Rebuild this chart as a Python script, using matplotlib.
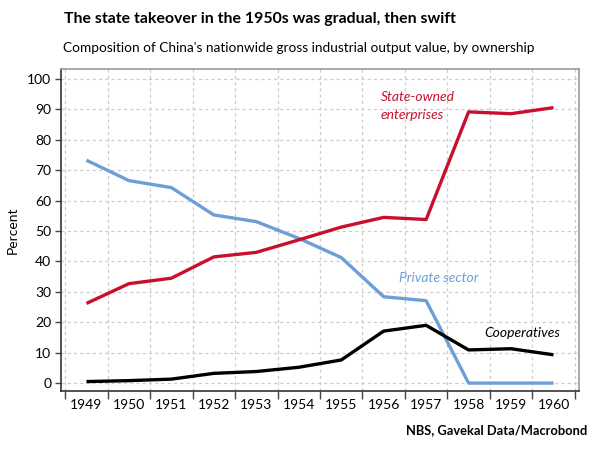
import numpy as np
from matplotlib import pyplot as plt
from matplotlib import ticker

years = [1949, 1950, 1951, 1952, 1953, 1954, 1955, 1956, 1957, 1958, 1959, 1960]
state_owned = [26.2, 32.7, 34.5, 41.5, 43.0, 47.1, 51.3, 54.5, 53.8, 89.2, 88.6, 90.6]
private = [73.3, 66.6, 64.3, 55.3, 53.1, 47.6, 41.3, 28.4, 27.1, 0.0, 0.0, 0.0]
cooperatives = [0.5, 0.8, 1.3, 3.2, 3.8, 5.2, 7.6, 17.1, 19.0, 10.9, 11.3, 9.3]

RED = "#c8102e"
BLUE = "#6b9fd6"

plt.rcParams["font.family"] = ["Lato", "DejaVu Sans"]

fig = plt.figure(figsize=(5.99, 4.49), dpi=100)
ax = fig.add_axes([0.1018, 0.1292, 0.8648, 0.7171])

ax.plot(years, private, color=BLUE, lw=2.4, solid_capstyle="butt")
ax.plot(years, cooperatives, color="black", lw=2.4, solid_capstyle="butt")
ax.plot(years, state_owned, color=RED, lw=2.4, solid_capstyle="butt")

ax.set_xlim(years[0] - 0.6, years[-1] + 0.6)
ax.set_ylim(-2.6, 103.3)

# ticks + grid on the year boundaries, labels centred on the years
bounds = np.arange(years[0] - 0.5, years[-1] + 1, 1.0)
ax.xaxis.set_major_locator(ticker.FixedLocator(bounds))
ax.xaxis.set_major_formatter(ticker.NullFormatter())
ax.xaxis.set_minor_locator(ticker.FixedLocator(years))
ax.xaxis.set_minor_formatter(ticker.FixedFormatter([str(y) for y in years]))
ax.tick_params(axis="x", which="major", length=6, width=1, color="#444444")
ax.tick_params(axis="x", which="minor", length=0, pad=6, labelsize=10)
ax.yaxis.set_major_locator(ticker.MultipleLocator(10))
ax.tick_params(axis="y", length=4, width=1, color="#444444", labelsize=10, pad=3)

ax.grid(True, which="major", color="#cccccc", lw=0.9, linestyle=(0, (2.5, 2.5)))
ax.set_axisbelow(True)

for side in ("top", "right"):
    ax.spines[side].set_color("#999999")
    ax.spines[side].set_linewidth(1.2)
for side in ("left", "bottom"):
    ax.spines[side].set_color("#333333")
    ax.spines[side].set_linewidth(1.2)

ax.set_ylabel("Percent", fontsize=10, labelpad=6)

ax.text(1955.93, 91.1, "State-owned\nenterprises", color=RED, fontsize=10,
        style="italic", ha="left", va="center", linespacing=1.55)
ax.text(1956.36, 34.5, "Private sector", color=BLUE, fontsize=10,
        style="italic", ha="left", va="center")
ax.text(1958.37, 16.5, "Cooperatives", color="black", fontsize=10,
        style="italic", ha="left", va="center")

fig.text(0.434, 0.958, "The state takeover in the 1950s was gradual, then swift",
         ha="center", va="center", fontsize=11.4, fontweight="bold")
fig.text(0.499, 0.892, "Composition of China's nationwide gross industrial output value, by ownership",
         ha="center", va="center", fontsize=9.8)
fig.text(0.98, 0.042, "NBS, Gavekal Data/Macrobond", ha="right", va="center",
         fontsize=9.3, fontweight="bold")

fig.savefig("out.png", dpi=100)
plt.close(fig)
